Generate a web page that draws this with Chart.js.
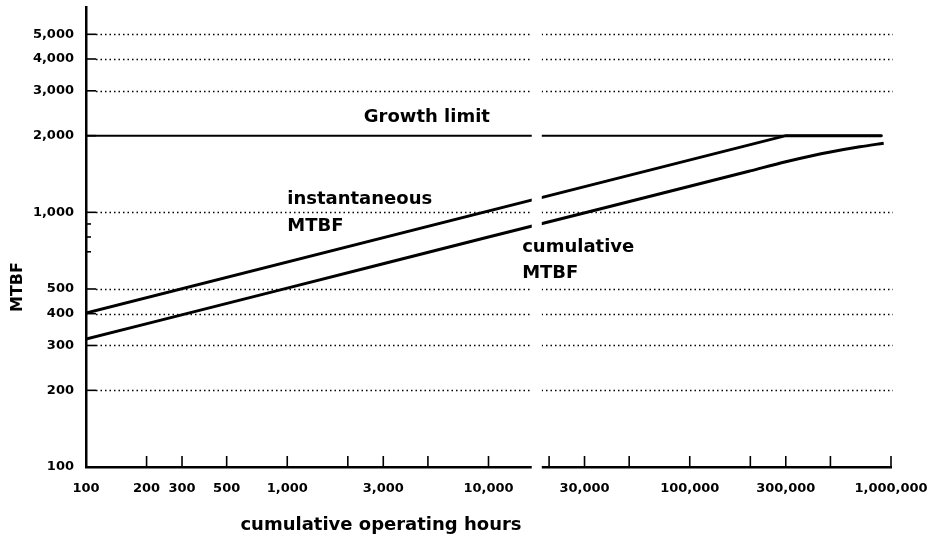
<!DOCTYPE html>
<html>
<head>
<meta charset="utf-8">
<script src="https://cdn.jsdelivr.net/npm/chart.js@4/dist/chart.umd.min.js"></script>
<style>
  html, body { margin: 0; padding: 0; background: #fff; }
  #wrap { width: 927px; height: 542px; }
</style>
</head>
<body>
<div id="wrap"><canvas id="chart"></canvas></div>
<script>
/* =========================
   DATOS
========================= */

// ejes
const xTickValues = [200, 300, 500, 1000, 2000, 3000, 5000, 10000, 20000, 30000, 50000,
  100000, 200000, 300000, 500000, 1000000];
const xLabelValues = [100, 200, 300, 500, 1000, 3000, 10000, 30000, 100000, 300000, 1000000];
const yLabelValues = [100, 200, 300, 400, 500, 1000, 2000, 3000, 4000, 5000];
const yMinorTicks = [700, 800, 900];
const yGridValues = [200, 300, 400, 500, 1000, 3000, 4000, 5000];

// series
const limitHours = [100, 910000];
const limitMTBF = [2000, 2000];

const instHours = [100, 300000, 900000];
const instMTBF = [402, 2000, 2000];

const cumHours = [100, 1000, 10000, 100000, 200000, 300000, 400000, 500000, 700000, 920000];
const cumMTBF = [318, 504, 800, 1265, 1455, 1580, 1664, 1725, 1808, 1868];

// hueco del escaneo (en horas)
const gapFrom = 16400;
const gapTo = 18400;

const FONT = "'DejaVu Sans', sans-serif";

function toPoints(xs, ys) {
  return xs.map((x, i) => ({ x, y: ys[i] }));
}

/* =========================
   PLUGIN: rejilla punteada, ticks hacia dentro, textos
========================= */

const decor = {
  id: "decor",
  beforeDatasetsDraw(chart) {
    const { ctx, chartArea, scales: { x, y } } = chart;
    ctx.save();

    // rejilla horizontal punteada
    ctx.strokeStyle = "#000";
    ctx.lineWidth = 1.4;
    ctx.setLineDash([1.5, 3]);
    yGridValues.forEach(v => {
      const py = Math.round(y.getPixelForValue(v)) + 0.5;
      ctx.beginPath();
      ctx.moveTo(chartArea.left + 10, py);
      ctx.lineTo(chartArea.right + 2, py);
      ctx.stroke();
    });
    ctx.setLineDash([]);

    // ticks hacia dentro
    ctx.lineWidth = 1.6;
    xTickValues.forEach(v => {
      const px = x.getPixelForValue(v);
      ctx.beginPath();
      ctx.moveTo(px, chartArea.bottom);
      ctx.lineTo(px, chartArea.bottom - 11);
      ctx.stroke();
    });
    yLabelValues.filter(v => v > 100).forEach(v => {
      const py = y.getPixelForValue(v);
      ctx.beginPath();
      ctx.moveTo(chartArea.left, py);
      ctx.lineTo(chartArea.left + 10, py);
      ctx.stroke();
    });
    yMinorTicks.forEach(v => {
      const py = y.getPixelForValue(v);
      ctx.beginPath();
      ctx.moveTo(chartArea.left, py);
      ctx.lineTo(chartArea.left + 5, py);
      ctx.stroke();
    });
    ctx.restore();
  },
  afterDatasetsDraw(chart) {
    const { ctx, chartArea, scales: { x, y } } = chart;
    ctx.save();

    // hueco vertical
    const g1 = x.getPixelForValue(gapFrom);
    const g2 = x.getPixelForValue(gapTo);
    ctx.fillStyle = "#fff";
    ctx.fillRect(g1, 0, g2 - g1, chartArea.bottom + 3);

    // anotaciones
    ctx.fillStyle = "#000";
    ctx.font = "bold 18px " + FONT;
    ctx.textBaseline = "alphabetic";
    ctx.textAlign = "left";
    ctx.fillText("Growth limit", x.getPixelForValue(2400), 122);
    ctx.fillText("instantaneous", x.getPixelForValue(1000), 204);
    ctx.fillText("MTBF", x.getPixelForValue(1000), 231);
    ctx.fillText("cumulative", x.getPixelForValue(14700), 252);
    ctx.fillText("MTBF", x.getPixelForValue(14700), 278);

    // títulos de ejes
    ctx.textAlign = "center";
    ctx.textBaseline = "middle";
    ctx.fillText("cumulative operating hours", 381, 525);

    ctx.font = "bold 16px " + FONT;
    ctx.translate(18, 287);
    ctx.rotate(-Math.PI / 2);
    ctx.fillText("MTBF", 0, 0);
    ctx.restore();
  }
};

/* =========================
   GRÁFICO
========================= */

const lineStyle = {
  borderColor: "#000",
  pointRadius: 0,
  fill: false,
  tension: 0
};

const tickFont = { family: FONT, size: 13, weight: "bold" };

new Chart(document.getElementById("chart"), {
  type: "line",
  data: {
    datasets: [
      { ...lineStyle, label: "Growth limit", data: toPoints(limitHours, limitMTBF), borderWidth: 2 },
      { ...lineStyle, label: "instantaneous MTBF", data: toPoints(instHours, instMTBF), borderWidth: 3 },
      { ...lineStyle, label: "cumulative MTBF", data: toPoints(cumHours, cumMTBF), borderWidth: 3,
        cubicInterpolationMode: "monotone" }
    ]
  },
  options: {
    responsive: true,
    maintainAspectRatio: false,
    animation: false,
    layout: { padding: { top: 7, right: 36, left: 0, bottom: 0 } },
    plugins: { legend: { display: false }, tooltip: { enabled: false } },
    scales: {
      x: {
        type: "logarithmic",
        min: 100,
        max: 1000000,
        grid: { display: false, drawTicks: false },
        border: { display: true, color: "#000", width: 2.5 },
        afterBuildTicks: s => { s.ticks = [100, ...xTickValues].map(v => ({ value: v })); },
        afterFit: s => {
          s.height = 75;
          s.paddingLeft = 0;
          s.paddingRight = 0;
        },
        ticks: {
          autoSkip: false,
          maxRotation: 0,
          padding: 14,
          color: "#000",
          font: tickFont,
          callback: v => xLabelValues.includes(v) ? v.toLocaleString("en-US") : ""
        }
      },
      y: {
        type: "logarithmic",
        min: 100,
        max: 6400,
        grid: { display: false, drawTicks: false },
        border: { display: true, color: "#000", width: 2.5 },
        afterBuildTicks: s => {
          s.ticks = [...yLabelValues, ...yMinorTicks].sort((a, b) => a - b).map(v => ({ value: v }));
        },
        afterFit: s => {
          s.width = 86;
          s.paddingTop = 0;
          s.paddingBottom = 0;
        },
        ticks: {
          autoSkip: false,
          padding: 12,
          color: "#000",
          font: tickFont,
          callback: v => yLabelValues.includes(v) ? v.toLocaleString("en-US") : ""
        }
      }
    }
  },
  plugins: [decor]
});
</script>
</body>
</html>
